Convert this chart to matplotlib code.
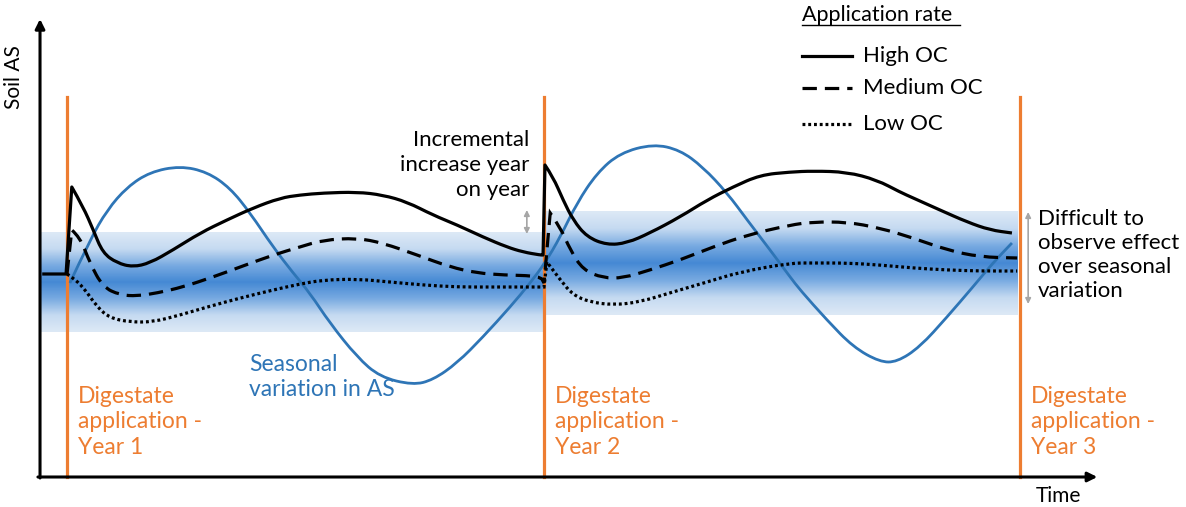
import matplotlib
matplotlib.use("Agg")
import matplotlib.pyplot as plt
import numpy as np
from matplotlib.colors import LinearSegmentedColormap
from matplotlib.path import Path
from matplotlib.patches import PathPatch

plt.rcParams['font.family'] = ['Lato', 'DejaVu Sans']

# DATA (time in years since first application, soil AS in arbitrary units)
high_t = [-0.052, -0.002, 0.010, 0.034, 0.055, 0.075, 0.105, 0.138, 0.174, 0.222, 0.279,
          0.335, 0.390, 0.447, 0.488, 0.537, 0.608, 0.662, 0.713, 0.767, 0.818, 0.872,
          0.922, 0.956, 0.992, 0.998, 1.002, 1.019, 1.040, 1.061, 1.090, 1.132, 1.174,
          1.222, 1.285, 1.342, 1.396, 1.453, 1.516, 1.564, 1.635, 1.698, 1.746, 1.774,
          1.830, 1.887, 1.935, 1.981]
high_y = [2.03, 2.03, 2.90, 2.70, 2.47, 2.24, 2.14, 2.10, 2.14, 2.27, 2.44,
          2.57, 2.69, 2.79, 2.82, 2.84, 2.85, 2.82, 2.75, 2.62, 2.52, 2.40,
          2.30, 2.25, 2.22, 2.22, 3.12, 3.00, 2.77, 2.57, 2.40, 2.32, 2.34,
          2.44, 2.60, 2.77, 2.90, 3.02, 3.05, 3.06, 3.05, 2.97, 2.85, 2.79,
          2.67, 2.55, 2.47, 2.44]

med_t = [0.000, 0.010, 0.027, 0.048, 0.075, 0.111, 0.147, 0.189, 0.243, 0.306, 0.363,
         0.432, 0.488, 0.537, 0.608, 0.662, 0.734, 0.803, 0.860, 0.914, 0.992, 1.000,
         1.013, 1.034, 1.055, 1.082, 1.124, 1.166, 1.222, 1.285, 1.354, 1.426, 1.516,
         1.564, 1.635, 1.704, 1.774, 1.845, 1.914, 1.992]
med_y = [2.03, 2.47, 2.40, 2.14, 1.90, 1.82, 1.81, 1.84, 1.90, 2.00, 2.10,
         2.22, 2.30, 2.37, 2.39, 2.34, 2.22, 2.10, 2.04, 2.02, 2.01, 1.94,
         2.64, 2.50, 2.27, 2.07, 1.99, 1.99, 2.07, 2.17, 2.30, 2.42, 2.52,
         2.55, 2.55, 2.49, 2.39, 2.27, 2.20, 2.19]

low_t = [0.000, 0.010, 0.034, 0.063, 0.090, 0.132, 0.180, 0.237, 0.294, 0.363, 0.432,
         0.488, 0.537, 0.608, 0.677, 0.746, 0.818, 0.887, 0.992, 1.000, 1.006, 1.034,
         1.061, 1.096, 1.145, 1.201, 1.270, 1.342, 1.411, 1.516, 1.564, 1.635, 1.704,
         1.774, 1.845, 1.914, 1.992]
low_y = [2.03, 2.00, 1.90, 1.70, 1.59, 1.55, 1.55, 1.62, 1.70, 1.79, 1.87,
         1.93, 1.97, 1.98, 1.95, 1.92, 1.90, 1.90, 1.90, 1.90, 2.15, 1.97,
         1.82, 1.75, 1.72, 1.75, 1.85, 1.95, 2.05, 2.14, 2.14, 2.14, 2.12,
         2.09, 2.07, 2.06, 2.06]

season_t = [0.006, 0.048, 0.084, 0.126, 0.174, 0.237, 0.294, 0.342, 0.384, 0.432, 0.474,
            0.509, 0.551, 0.608, 0.656, 0.725, 0.767, 0.818, 0.872, 0.929, 0.971, 1.002,
            1.034, 1.069, 1.111, 1.159, 1.229, 1.285, 1.333, 1.384, 1.426, 1.474, 1.516,
            1.537, 1.593, 1.648, 1.704, 1.740, 1.788, 1.845, 1.899, 1.941, 1.981]
season_y = [1.94, 2.37, 2.67, 2.90, 3.05, 3.11, 3.05, 2.89, 2.64, 2.30, 2.04,
            1.84, 1.54, 1.20, 1.00, 0.92, 0.97, 1.14, 1.40, 1.70, 1.94, 2.14,
            2.40, 2.74, 3.04, 3.24, 3.33, 3.27, 3.10, 2.84, 2.57, 2.27, 2.00,
            1.87, 1.57, 1.30, 1.15, 1.15, 1.30, 1.60, 1.90, 2.14, 2.34]

# seasonal variation bands (start, end, low, high)
band_start = [-0.057, 1.000]
band_end = [1.000, 1.992]
band_low = [1.45, 1.62]
band_high = [2.44, 2.65]

applications = [0.0, 1.0, 1.998]
app_labels = ['Digestate\napplication -\nYear 1', 'Digestate\napplication -\nYear 2',
              'Digestate\napplication -\nYear 3']
app_top = 3.80

legend_labels = ['High OC', 'Medium OC', 'Low OC']

ORANGE = '#ED7D31'
BLUE = '#2E75B6'
GREY = '#A6A6A6'


def smooth_line(ax, xs, ys, sharp=(), **kw):
    # quadratic bezier through the mid points, keeping corners at the sharp indices
    pts = list(zip(xs, ys))
    verts = [pts[0]]
    codes = [Path.MOVETO]
    for i in range(1, len(pts) - 1):
        if i in sharp:
            verts.append(pts[i])
            codes.append(Path.LINETO)
        else:
            mid = ((pts[i][0] + pts[i + 1][0]) / 2, (pts[i][1] + pts[i + 1][1]) / 2)
            verts += [pts[i], mid]
            codes += [Path.CURVE3, Path.CURVE3]
    verts.append(pts[-1])
    codes.append(Path.LINETO)
    ax.add_patch(PathPatch(Path(verts, codes), fill=False, **kw))


fig = plt.figure(figsize=(11.86, 5.07), dpi=100)
ax = fig.add_axes([0, 0, 1, 1])
ax.set_xlim(-0.1405, 2.3459)
ax.set_ylim(-0.30, 4.77)
ax.axis('off')

# gradient bands
cmap = LinearSegmentedColormap.from_list(
    'band', ['#dde9f6', '#c5daf1', '#78aae1', '#4589d4', '#78aae1', '#c5daf1', '#dde9f6'])
grad = np.linspace(0, 1, 200).reshape(-1, 1)
for x0, x1, y0, y1 in zip(band_start, band_end, band_low, band_high):
    ax.imshow(grad, cmap=cmap, extent=[x0, x1, y0, y1], aspect='auto', zorder=1,
              interpolation='bilinear')

# axes arrows
ax.annotate('', xy=(-0.0566, 4.58), xytext=(-0.0566, -0.01),
            arrowprops=dict(arrowstyle='-|>', lw=2.2, color='black',
                            mutation_scale=14, shrinkA=0, shrinkB=0), zorder=5)
ax.annotate('', xy=(2.16, 0.0), xytext=(-0.061, 0.0),
            arrowprops=dict(arrowstyle='-|>', lw=2.2, color='black',
                            mutation_scale=14, shrinkA=0, shrinkB=0), zorder=5)
ax.text(-0.111, 4.00, 'Soil AS', rotation=90, ha='center', va='center', fontsize=15)
ax.text(2.031, -0.19, 'Time', ha='left', va='center', fontsize=15)

# application lines
for xa, lab in zip(applications, app_labels):
    ax.plot([xa, xa], [0, app_top], color=ORANGE, lw=2.3, zorder=2.5)
    ax.text(xa + 0.022, 0.55, lab, color=ORANGE, fontsize=16.5, ha='left', va='center',
            linespacing=1.28)

# curves
smooth_line(ax, season_t, season_y, color=BLUE, lw=2.0, zorder=3)
smooth_line(ax, high_t, high_y, sharp=(1, 2, 25, 26), edgecolor='black', lw=2.3,
            zorder=4, joinstyle='round')
smooth_line(ax, med_t, med_y, sharp=(1, 21, 22), edgecolor='black', lw=2.3,
            linestyle=(0, (4.5, 2.5)), zorder=4)
smooth_line(ax, low_t, low_y, sharp=(19, 20), edgecolor='black', lw=2.3,
            linestyle=(0, (0.9, 0.9)), zorder=4)

# annotations
ax.text(0.969, 3.12, 'Incremental\nincrease year\non year', ha='right', va='center',
        fontsize=16, linespacing=1.3)
ax.annotate('', xy=(0.964, 2.67), xytext=(0.964, 2.43),
            arrowprops=dict(arrowstyle='<|-|>', lw=1.2, color=GREY,
                            mutation_scale=8, shrinkA=0, shrinkB=0))
ax.annotate('', xy=(2.015, 2.65), xytext=(2.015, 1.73),
            arrowprops=dict(arrowstyle='<|-|>', lw=1.2, color=GREY,
                            mutation_scale=8, shrinkA=0, shrinkB=0))
ax.text(2.036, 2.22, 'Difficult to\nobserve effect\nover seasonal\nvariation', ha='left',
        va='center', fontsize=16, linespacing=1.26)
ax.text(0.382, 1.00, 'Seasonal\nvariation in AS', color=BLUE, ha='left', va='center',
        fontsize=16.5, linespacing=1.28)

# legend
ax.text(1.541, 4.62, 'Application rate', ha='left', va='center', fontsize=15.5)
ax.plot([1.541, 1.872], [4.52, 4.52], color='black', lw=1.0)
styles = [dict(), dict(dashes=(4.5, 2.5)), dict(dashes=(0.9, 0.9))]
for i, (lab, st) in enumerate(zip(legend_labels, styles)):
    yy = [4.21, 3.89, 3.53][i]
    ax.plot([1.541, 1.646], [yy, yy], color='black', lw=2.3, **st)
    ax.text(1.669, yy, lab, ha='left', va='center', fontsize=16)

fig.savefig('out.png', dpi=100)
